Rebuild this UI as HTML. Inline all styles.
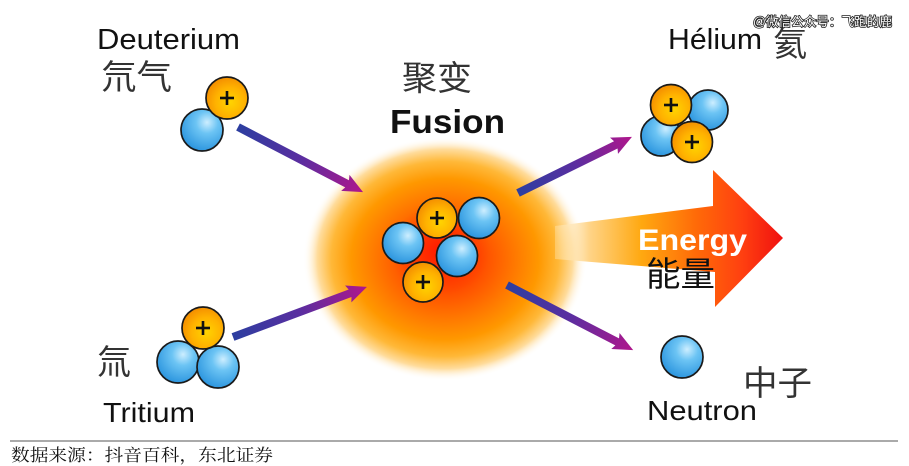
<!DOCTYPE html>
<html><head><meta charset="utf-8"><style>
html,body{margin:0;padding:0;background:#fff;}
svg{display:block;}
</style></head><body>
<svg width="909" height="466" viewBox="0 0 909 466" xmlns="http://www.w3.org/2000/svg">
<defs>
  <radialGradient id="glow" cx="0.5" cy="0.5" r="0.5">
    <stop offset="0" stop-color="#ff2a00"/>
    <stop offset="0.25" stop-color="#ff4a00"/>
    <stop offset="0.5" stop-color="#ff7a00"/>
    <stop offset="0.66" stop-color="#ff9800"/>
    <stop offset="0.8" stop-color="#ffb838"/>
    <stop offset="0.9" stop-color="#ffdc9c"/>
    <stop offset="1" stop-color="#ffffff" stop-opacity="0"/>
  </radialGradient>
  <linearGradient id="energy" gradientUnits="userSpaceOnUse" x1="555" y1="0" x2="783" y2="0">
    <stop offset="0" stop-color="#fff4d8" stop-opacity="0.3"/>
    <stop offset="0.15" stop-color="#ffd488"/>
    <stop offset="0.38" stop-color="#ffa810"/>
    <stop offset="0.62" stop-color="#ff6a08"/>
    <stop offset="0.82" stop-color="#ff4010"/>
    <stop offset="1" stop-color="#f01010"/>
  </linearGradient>
  <linearGradient id="arr" x1="0" y1="0" x2="1" y2="0">
    <stop offset="0" stop-color="#2c3ea0"/>
    <stop offset="0.5" stop-color="#5a2ea0"/>
    <stop offset="1" stop-color="#b0168c"/>
  </linearGradient>
  <radialGradient id="ng" cx="0.62" cy="0.32" r="0.75">
    <stop offset="0" stop-color="#cdeeff"/>
    <stop offset="0.35" stop-color="#6cc4f4"/>
    <stop offset="1" stop-color="#2590dc"/>
  </radialGradient>
  <radialGradient id="pg" cx="0.58" cy="0.6" r="0.7">
    <stop offset="0" stop-color="#ffd400"/>
    <stop offset="0.5" stop-color="#ffb200"/>
    <stop offset="1" stop-color="#f08200"/>
  </radialGradient>
  <radialGradient id="core" cx="0.5" cy="0.5" r="0.5">
    <stop offset="0" stop-color="#ff1a00"/>
    <stop offset="1" stop-color="#ff3a00" stop-opacity="0"/>
  </radialGradient>
</defs>

<rect width="909" height="466" fill="#fff"/>

<!-- glow -->
<ellipse cx="445" cy="259" rx="142" ry="122" fill="url(#glow)"/>
<ellipse cx="440" cy="250" rx="50" ry="45" fill="url(#core)"/>

<!-- energy arrow -->
<polygon points="555,226 713,206 713,170 783,238 715,307 715,272 555,259" fill="url(#energy)"/>

<!-- arrows -->
<g transform="translate(238,127) rotate(27.5)"><polygon points="0,-4 123,-4 121,-9 141,0 121,9 123,4 0,4" fill="url(#arr)"/></g>
<g transform="translate(233,337) rotate(-20.5)"><polygon points="0,-4 125,-4 123,-9 143,0 123,9 125,4 0,4" fill="url(#arr)"/></g>
<g transform="translate(518,193) rotate(-26.2)"><polygon points="0,-4 109,-4 107,-9 127,0 107,9 109,4 0,4" fill="url(#arr)"/></g>
<g transform="translate(507,285) rotate(27.3)"><polygon points="0,-4 124,-4 122,-9 142,0 122,9 124,4 0,4" fill="url(#arr)"/></g>

<g stroke="#1a1a1a" stroke-width="1.7">
  <!-- deuterium -->
  <circle cx="202" cy="130" r="21" fill="url(#ng)"/>
  <circle cx="227" cy="98" r="21" fill="url(#pg)"/>
  <!-- tritium -->
  <circle cx="178" cy="362" r="21" fill="url(#ng)"/>
  <circle cx="218" cy="367" r="21" fill="url(#ng)"/>
  <circle cx="203" cy="328" r="21" fill="url(#pg)"/>
  <!-- center -->
  <circle cx="479" cy="218" r="20.5" fill="url(#ng)"/>
  <circle cx="403" cy="243" r="20.5" fill="url(#ng)"/>
  <circle cx="457" cy="256" r="20.5" fill="url(#ng)"/>
  <circle cx="437" cy="218" r="20" fill="url(#pg)"/>
  <circle cx="423" cy="282" r="20" fill="url(#pg)"/>
  <!-- helium -->
  <circle cx="708" cy="110" r="20" fill="url(#ng)"/>
  <circle cx="661" cy="136" r="20" fill="url(#ng)"/>
  <circle cx="671" cy="105" r="20.5" fill="url(#pg)"/>
  <circle cx="692" cy="142" r="20.5" fill="url(#pg)"/>
  <!-- neutron -->
  <circle cx="682" cy="357" r="21" fill="url(#ng)"/>
</g>
<g fill="#111">
  <rect x="220" y="96.7" width="14" height="2.6"/><rect x="225.7" y="91" width="2.6" height="14"/>
  <rect x="196" y="326.7" width="14" height="2.6"/><rect x="201.7" y="321" width="2.6" height="14"/>
  <rect x="430" y="216.7" width="14" height="2.6"/><rect x="435.7" y="211" width="2.6" height="14"/>
  <rect x="416" y="280.7" width="14" height="2.6"/><rect x="421.7" y="275" width="2.6" height="14"/>
  <rect x="664" y="103.7" width="14" height="2.6"/><rect x="669.7" y="98" width="2.6" height="14"/>
  <rect x="685" y="140.7" width="14" height="2.6"/><rect x="690.7" y="135" width="2.6" height="14"/>
</g>

<!-- texts -->
<g font-family="'Liberation Sans', Arial, sans-serif" fill="#111">
  <text x="97" y="49" font-size="29" textLength="143" lengthAdjust="spacingAndGlyphs">Deuterium</text>
  <text x="390" y="133" font-size="33" font-weight="bold" textLength="115" lengthAdjust="spacingAndGlyphs">Fusion</text>
  <text x="668" y="49" font-size="29" textLength="94" lengthAdjust="spacingAndGlyphs">Hélium</text>
  <text x="638" y="250" font-size="30" font-weight="bold" fill="#fff" textLength="109" lengthAdjust="spacingAndGlyphs">Energy</text>
  <text x="103" y="422" font-size="28" textLength="92" lengthAdjust="spacingAndGlyphs">Tritium</text>
  <text x="647" y="420" font-size="28" textLength="110" lengthAdjust="spacingAndGlyphs">Neutron</text>
</g>
<g font-family="'Liberation Sans', 'Noto Sans CJK SC', sans-serif" fill="#333" font-size="34">
  <text x="101" y="89" textLength="71" lengthAdjust="spacingAndGlyphs">氘气</text>
  <text x="402" y="90" textLength="70" lengthAdjust="spacingAndGlyphs">聚变</text>
  <text x="773" y="56">氦</text>
  <text x="646" y="286" fill="#111" textLength="69" lengthAdjust="spacingAndGlyphs">能量</text>
  <text x="97" y="374">氚</text>
  <text x="743" y="395" textLength="69" lengthAdjust="spacingAndGlyphs">中子</text>
</g>

<!-- watermark -->
<text x="753" y="26" font-family="'Liberation Sans', 'Noto Sans CJK SC', sans-serif" font-size="12.5" fill="#fff" stroke="#222" stroke-width="1.6" paint-order="stroke" textLength="139" lengthAdjust="spacingAndGlyphs">@微信公众号：飞跑的鹿</text>

<!-- source line -->
<line x1="10" y1="441" x2="898" y2="441" stroke="#777" stroke-width="1.2"/>
<text x="11" y="461" font-family="'Liberation Serif', 'Noto Serif CJK SC', serif" font-size="17" fill="#111" textLength="262" lengthAdjust="spacingAndGlyphs">数据来源：抖音百科，东北证券</text>
</svg>
</body></html>
